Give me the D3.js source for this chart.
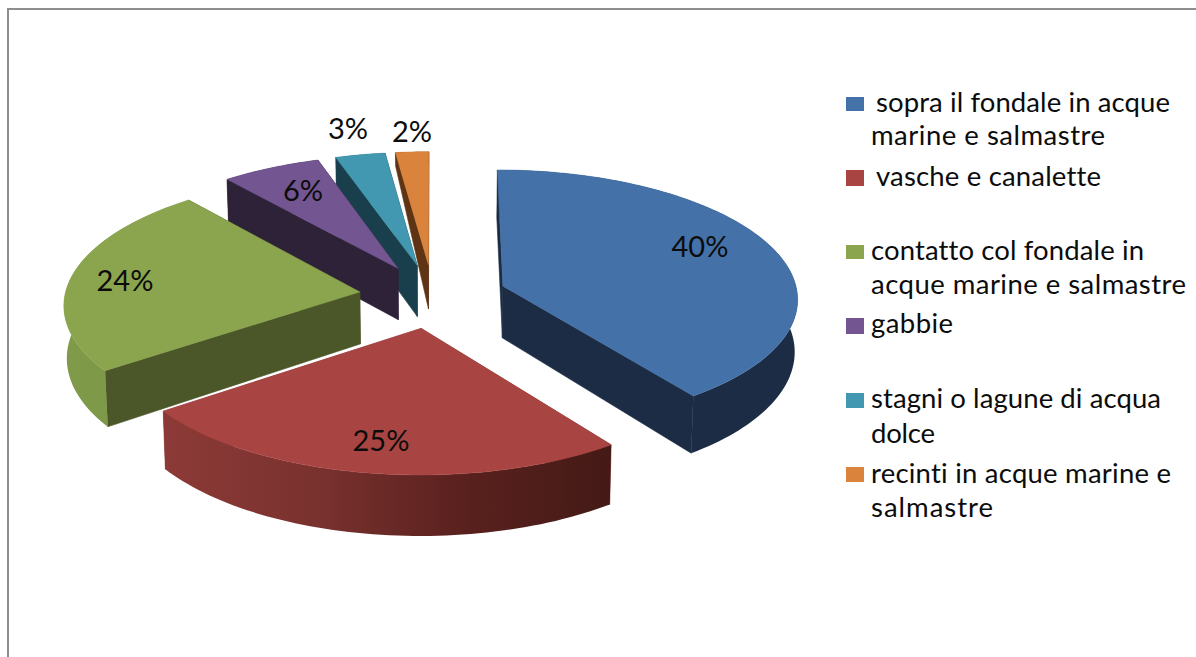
<!DOCTYPE html>
<html>
<head>
<meta charset="utf-8">
<script src="https://cdn.jsdelivr.net/npm/d3@7/dist/d3.min.js"></script>
<style>
html,body{margin:0;padding:0;background:#fff;overflow:hidden}
svg{display:block}
text{font-family:Lato,"Open Sans",sans-serif;fill:#0c0c0c;font-variant-ligatures:none}
</style>
</head>
<body>
<svg id="chart" width="1196" height="657"></svg>
<script>
// Aquaculture production share by farming environment
const categories = [
  ["sopra il fondale in acque", "marine e salmastre"],
  ["vasche e canalette"],
  ["contatto col fondale in", "acque marine e salmastre"],
  ["gabbie"],
  ["stagni o lagune di acqua", "dolce"],
  ["recinti in acque marine e", "salmastre"]
];
const shares = [40, 25, 24, 6, 3, 2];
const topColors = ["#4472a8", "#a84442", "#8aa54e", "#725591", "#4298b0", "#d9833c"];
const rimColors = [
  ["#1b2c44", "#1b2c44"],
  ["#8c3a37", "#7a322f", "#5a211e", "#441a16"],
  ["#7f9b49", "#7a9544"],
  ["#2e2239", "#2e2239"],
  ["#1a3f4c", "#1a3f4c"],
  ["#5f3415", "#5f3415"]
];
const wallColors = ["#1b2c44", "#8c3a37", "#4b5729", "#2e2239", "#1a3f4c", "#5f3415"];

// Pie geometry on the ground plane and its perspective view
const center = {x: 433, y: 296};
const radius = 295;
const explode = 74;
const tilt = 0.4336;
const persp = 0.000294;
const backDepth = [48, 48, 48, 48, 48, 14];

function project(X, Y, lowered, i) {
  const s = 1 / (1 - persp * Y);
  const shrink = lowered ? 0.992 : 1;
  const depth = d3.scaleLinear().domain([-368, 0, 368]).range([backDepth[i], 52, 61]);
  return [
    center.x + X * s * shrink,
    center.y + tilt * Y * s + (lowered ? depth(Y) : 0)
  ];
}

const svg = d3.select("#chart");
const defs = svg.append("defs");
const line = d3.line();

// Chart frame, running off the right and bottom of the page
svg.append("rect")
  .attr("x", 8).attr("y", 9).attr("width", 1300).attr("height", 800)
  .attr("fill", "none").attr("stroke", "#8e8e8e").attr("stroke-width", 2);

const arcs = d3.pie().sort(null).startAngle(0).endAngle(2 * Math.PI)(shares);

const slices = arcs.map((d, i) => {
  const mid = (d.startAngle + d.endAngle) / 2;
  const ox = explode * Math.sin(mid);
  const oy = -explode * Math.cos(mid);
  const steps = Math.max(6, Math.ceil((d.endAngle - d.startAngle) * 40));
  const angle = d3.scaleLinear().domain([0, steps]).range([d.startAngle, d.endAngle]);
  const ground = d3.range(steps + 1).map(k => [
    ox + radius * Math.sin(angle(k)),
    oy - radius * Math.cos(angle(k))
  ]);
  return {i, apex: [ox, oy], ground};
});

// Farthest slices first so nearer ones paint over them
slices.slice().reverse().forEach(s => {
  const g = svg.append("g");
  const up = p => project(p[0], p[1], false, s.i);
  const down = p => project(p[0], p[1], true, s.i);
  const first = s.ground[0];
  const last = s.ground[s.ground.length - 1];

  // Cut faces go underneath the curved rim
  [first, last].forEach(edge => {
    g.append("path")
      .attr("d", line([up(s.apex), up(edge), down(edge), down(s.apex)]) + "Z")
      .attr("fill", wallColors[s.i])
      .attr("stroke", wallColors[s.i]).attr("stroke-width", 0.6);
  });

  const rimTop = s.ground.map(up);
  const rimBottom = s.ground.map(down).reverse();
  const xs = rimTop.map(p => p[0]);
  const gradId = "rim" + s.i;
  const grad = defs.append("linearGradient").attr("id", gradId)
    .attr("gradientUnits", "userSpaceOnUse")
    .attr("x1", d3.min(xs)).attr("x2", d3.max(xs)).attr("y1", 0).attr("y2", 0);
  rimColors[s.i].forEach((c, k, all) => {
    grad.append("stop").attr("offset", k / (all.length - 1)).attr("stop-color", c);
  });
  g.append("path")
    .attr("d", line(rimTop.concat(rimBottom)) + "Z")
    .attr("fill", `url(#${gradId})`);

  g.append("path")
    .attr("d", line([up(s.apex)].concat(rimTop)) + "Z")
    .attr("fill", topColors[s.i])
    .attr("stroke", topColors[s.i]).attr("stroke-width", 0.5);
});

// Percentage labels
const labelSpots = [[700, 257], [381, 451], [125, 291], [303, 201], [348, 139], [412, 142]];
svg.append("g").selectAll("text").data(shares).join("text")
  .attr("x", (d, i) => labelSpots[i][0])
  .attr("y", (d, i) => labelSpots[i][1])
  .attr("text-anchor", "middle")
  .attr("font-size", 29)
  .text(d => d + "%");

// Legend
const swatchTop = [97, 170, 245, 318, 393, 467];
const swatchSize = [14, 16, 14, 16, 15, 15];
const baselines = [[112, 145], [186], [260, 294], [333], [408, 443], [483, 517]];
const textLeft = [876, 876, 871, 871, 871, 871];
const wrapLeft = 871;
const lineWidths = [[294, 234], [225], [273, 315], [82], [290, 64], [300, 122]];
const legend = svg.append("g");
categories.forEach((lines, i) => {
  legend.append("rect")
    .attr("x", 846).attr("y", swatchTop[i])
    .attr("width", 18).attr("height", swatchSize[i])
    .attr("fill", topColors[i]);
  lines.forEach((t, k) => {
    legend.append("text")
      .attr("x", k === 0 ? textLeft[i] : wrapLeft)
      .attr("y", baselines[i][k])
      .attr("font-size", 27.5)
      .attr("textLength", lineWidths[i][k])
      .attr("lengthAdjust", "spacing")
      .text(t);
  });
});
</script>
</body>
</html>
